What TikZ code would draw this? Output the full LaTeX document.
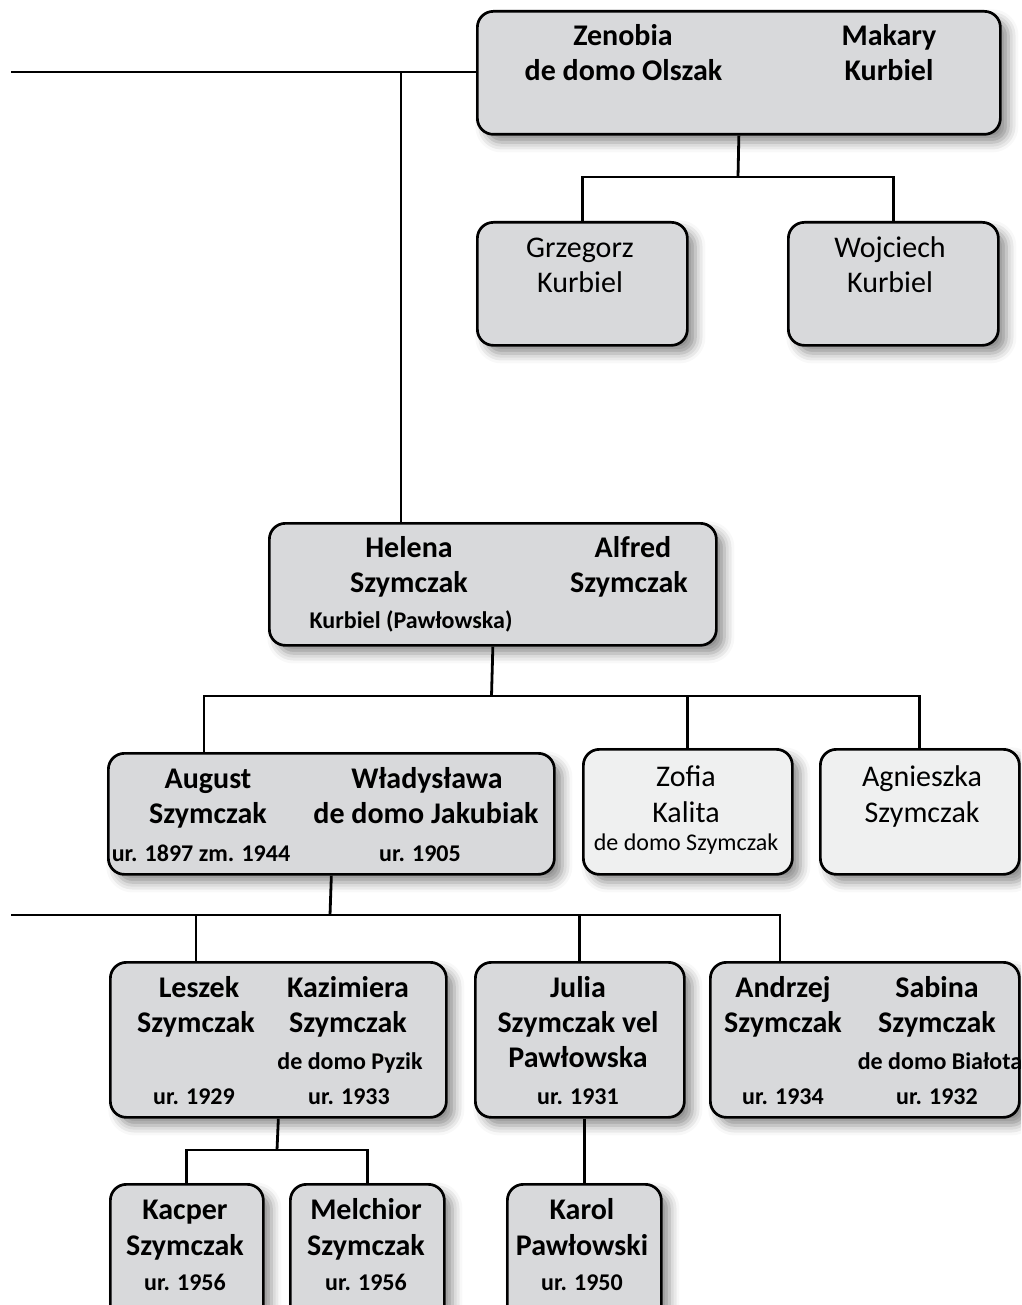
\documentclass[tikz,border=0pt]{standalone}
\usepackage{fontspec}
\setmainfont{Carlito}
\usetikzlibrary{shadows.blur}
\definecolor{boxgray}{RGB}{216,217,219}
\definecolor{boxlight}{RGB}{239,240,240}
\tikzset{
  box/.style={draw=black, line width=2.7pt, rounded corners=16pt, fill=boxgray, inner sep=0pt, anchor=north west,
    blur shadow={shadow xshift=8pt, shadow yshift=-8pt, shadow blur radius=10pt, shadow opacity=45}},
  lbox/.style={box, fill=boxlight},
  conn/.style={draw=black, line width=2.8pt},
  nm/.style={anchor=base, inner sep=0pt, font=\fontsize{30}{36}\selectfont\bfseries},
  nr/.style={anchor=base, inner sep=0pt, font=\fontsize{30}{36}\selectfont},
  sm/.style={anchor=base, inner sep=0pt, font=\fontsize{24}{29}\selectfont\bfseries},
  sr/.style={anchor=base, inner sep=0pt, font=\fontsize{24}{29}\selectfont},
}
\begin{document}
\begin{tikzpicture}[x=1pt,y=-1pt]
\useasboundingbox (0,0) rectangle (1021,1305);
\clip (0,0) rectangle (1021,1305);
% boxes
\node[box, minimum width=523pt, minimum height=123pt] (zm) at (476,10) {};
\node[box, minimum width=210pt, minimum height=123pt] (gk) at (476,221) {};
\node[box, minimum width=210pt, minimum height=123pt] (wk) at (787,221) {};
\node[box, minimum width=447pt, minimum height=122pt] (hs) at (268,522) {};
\node[box, minimum width=446pt, minimum height=121pt] (as) at (107,752) {};
\node[lbox, minimum width=209pt, minimum height=125pt] (zk) at (582,748) {};
\node[lbox, minimum width=199pt, minimum height=125pt] (ag) at (819,748) {};
\node[box, minimum width=336pt, minimum height=155pt] (ls) at (109,961) {};
\node[box, minimum width=209pt, minimum height=155pt] (js) at (474,961) {};
\node[box, minimum width=309pt, minimum height=155pt] (an) at (709,961) {};
\node[box, minimum width=153pt, minimum height=137pt] (kc) at (109,1183) {};
\node[box, minimum width=154pt, minimum height=137pt] (ml) at (289,1183) {};
\node[box, minimum width=154pt, minimum height=137pt] (kp) at (506,1183) {};
% junction coordinates
\coordinate (l1) at (11,72);
\coordinate (h1) at (401,72);
\coordinate (j1) at (738,177);
\coordinate (j2) at (491.5,696);
\coordinate (a1) at (204,696);
\coordinate (j3) at (330,915);
\coordinate (l2) at (11,915);
\coordinate (b1) at (196,915);
\coordinate (b3) at (780,915);
\coordinate (j4) at (277,1150);
% connectors
\draw[conn] (l1) -- (l1 -| zm.west);
\draw[conn] (h1) -- (h1 |- hs.north);
\draw[conn] (zm.south) -- (j1);
\draw[conn] (gk.north) |- (j1) -| (wk.north);
\draw[conn] (hs.south) -- (j2);
\draw[conn] (a1 |- as.north) -- (a1) -| (ag.north);
\draw[conn] (zk.north) -- (zk.north |- j2);
\draw[conn] (as.south) -- (j3);
\draw[conn] (l2) -- (b3) -- (b3 |- an.north);
\draw[conn] (b1) -- (b1 |- ls.north);
\draw[conn] (js.north) -- (js.north |- j3);
\draw[conn] (ls.south) -- (j4);
\draw[conn] (kc.north) |- (j4) -| (ml.north);
\draw[conn] (kp.north |- js.south) -- (kp.north);
% texts
\node[nm] (t01) at (623,46) {Zenobia};
\node[nm] (t02) at (623.5,81) {de domo Olszak};
\node[nm] (t03) at (889,46) {Makary};
\node[nm] (t04) at (889,81) {Kurbiel};
\node[nr] (t05) at (580,258) {Grzegorz};
\node[nr] (t06) at (580,293) {Kurbiel};
\node[nr] (t07) at (890,258) {Wojciech};
\node[nr] (t08) at (890,293) {Kurbiel};
\node[nm] (t09) at (409,557) {Helena};
\node[nm] (t10) at (409,592) {Szymczak};
\node[sm] (t11) at (411,628) {Kurbiel (Pawłowska)};
\node[nm] (t12) at (633,557) {Alfred};
\node[nm] (t13) at (629,592) {Szymczak};
\node[nm] (t14) at (208,788) {August};
\node[nm] (t15) at (208,823) {Szymczak};
\node[sm] (t16) at (201,861) {ur. 1897 zm. 1944};
\node[nm] (t17) at (427,788) {Władysława};
\node[nm] (t18) at (426,823) {de domo Jakubiak};
\node[sm] (t19) at (420,861) {ur. 1905};
\node[nr] (t20) at (686,786) {Zofia};
\node[nr] (t21) at (686,822) {Kalita};
\node[sr] (t22) at (686,850) {de domo Szymczak};
\node[nr] (t23) at (922,786) {Agnieszka};
\node[nr] (t24) at (922,822) {Szymczak};
\node[nm] (t25) at (199,997) {Leszek};
\node[nm] (t26) at (196,1032) {Szymczak};
\node[sm] (t27) at (194,1104) {ur. 1929};
\node[nm] (t28) at (348,997) {Kazimiera};
\node[nm] (t29) at (348,1032) {Szymczak};
\node[sm] (t30) at (350,1069) {de domo Pyzik};
\node[sm] (t31) at (349,1104) {ur. 1933};
\node[nm] (t32) at (578,997) {Julia};
\node[nm] (t33) at (578,1032) {Szymczak vel};
\node[nm] (t34) at (578,1067) {Pawłowska};
\node[sm] (t35) at (578,1104) {ur. 1931};
\node[nm] (t36) at (783,997) {Andrzej};
\node[nm] (t37) at (783,1032) {Szymczak};
\node[sm] (t38) at (783,1104) {ur. 1934};
\node[nm] (t39) at (937,997) {Sabina};
\node[nm] (t40) at (937,1032) {Szymczak};
\node[sm] (t41) at (940,1069) {de domo Białota};
\node[sm] (t42) at (937,1104) {ur. 1932};
\node[nm] (t43) at (185,1219) {Kacper};
\node[nm] (t44) at (185,1255) {Szymczak};
\node[sm] (t45) at (185,1290) {ur. 1956};
\node[nm] (t46) at (366,1219) {Melchior};
\node[nm] (t47) at (366,1255) {Szymczak};
\node[sm] (t48) at (366,1290) {ur. 1956};
\node[nm] (t49) at (582,1219) {Karol};
\node[nm] (t50) at (582,1255) {Pawłowski};
\node[sm] (t51) at (582,1290) {ur. 1950};
\end{tikzpicture}
\end{document}
